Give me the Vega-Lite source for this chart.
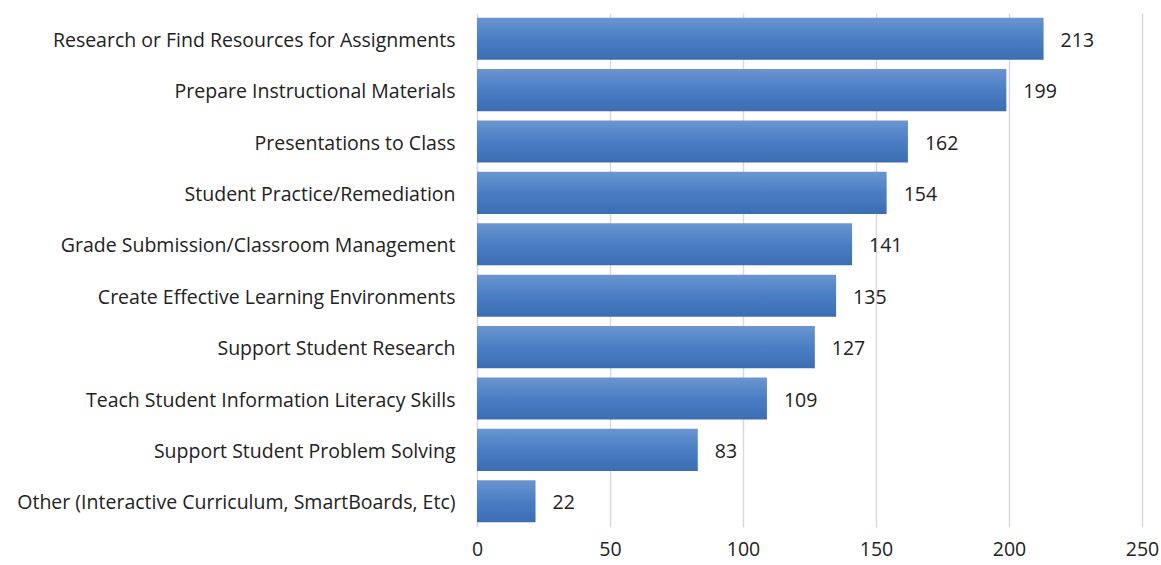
{
  "$schema": "https://vega.github.io/schema/vega-lite/v6.json",
  "autosize": "none",
  "width": 665,
  "height": 514,
  "padding": {"left": 477, "top": 13, "right": 19, "bottom": 38},
  "background": "white",
  "config": {"view": {"stroke": null}, "font": "Open Sans"},
  "data": {"values": [
    {"category": "Research or Find Resources for Assignments", "value": 213},
    {"category": "Prepare Instructional Materials", "value": 199},
    {"category": "Presentations to Class", "value": 162},
    {"category": "Student Practice/Remediation", "value": 154},
    {"category": "Grade Submission/Classroom Management", "value": 141},
    {"category": "Create Effective Learning Environments", "value": 135},
    {"category": "Support Student Research", "value": 127},
    {"category": "Teach Student Information Literacy Skills", "value": 109},
    {"category": "Support Student Problem Solving", "value": 83},
    {"category": "Other (Interactive Curriculum, SmartBoards, Etc)", "value": 22}
  ]},
  "encoding": {
    "y": {"field": "category", "type": "nominal", "sort": null, "title": null,
      "scale": {"paddingInner": 0.18, "paddingOuter": 0.09},
      "axis": {"domain": false, "ticks": false, "labelFontSize": 19.5, "labelColor": "#222222", "labelPadding": 22, "labelLimit": 480, "labelFont": "Open Sans", "labelOffset": 2}},
    "x": {"field": "value", "type": "quantitative", "title": null,
      "scale": {"domain": [0, 250], "nice": false},
      "axis": {"values": [0, 50, 100, 150, 200, 250], "domain": false, "ticks": false, "grid": true, "gridColor": "#d9d9d9", "gridWidth": 1.5, "labelFontSize": 19.5, "labelColor": "#222222", "labelPadding": 13, "labelFont": "Open Sans", "labelFlush": false}}
  },
  "layer": [
    {"mark": {"type": "bar", "color": {"gradient": "linear", "x1": 0, "y1": 0, "x2": 0, "y2": 1, "stops": [{"offset": 0, "color": "#6b95d0"}, {"offset": 0.5, "color": "#4a7ec4"}, {"offset": 1, "color": "#3c6db3"}]}}},
    {"mark": {"type": "text", "align": "left", "dx": 17, "dy": 2, "fontSize": 19.5, "color": "#222222", "font": "Open Sans"},
      "encoding": {"text": {"field": "value", "type": "quantitative"}}}
  ]
}
